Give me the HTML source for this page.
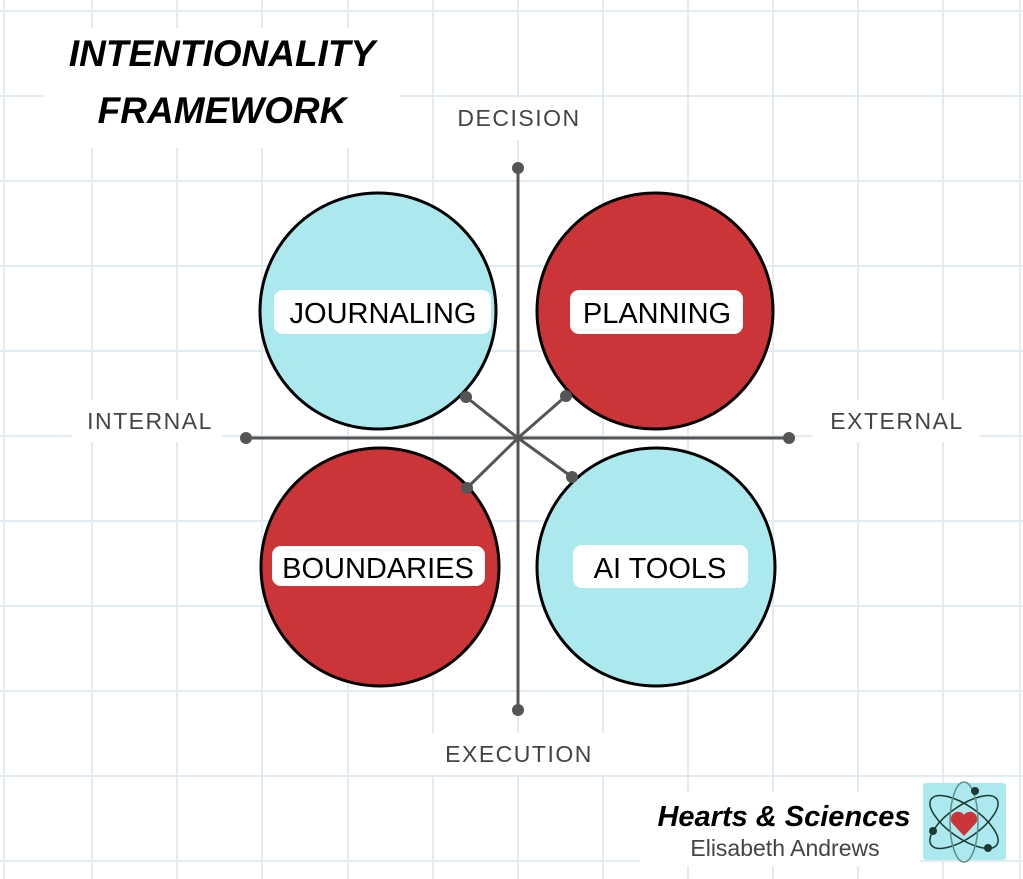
<!DOCTYPE html>
<html><head><meta charset="utf-8"><style>
body{margin:0;width:1023px;height:879px;overflow:hidden;background:#fff;}
svg{display:block}
</style></head><body>
<svg width="1023" height="879" viewBox="0 0 1023 879" xmlns="http://www.w3.org/2000/svg">
<g stroke="#e3ebf2" stroke-width="2">
<line x1="4" y1="0" x2="4" y2="879"/>
<line x1="92" y1="0" x2="92" y2="879"/><line x1="177" y1="0" x2="177" y2="879"/>
<line x1="262" y1="0" x2="262" y2="879"/><line x1="348" y1="0" x2="348" y2="879"/>
<line x1="433" y1="0" x2="433" y2="879"/><line x1="518" y1="0" x2="518" y2="879"/>
<line x1="603" y1="0" x2="603" y2="879"/><line x1="688" y1="0" x2="688" y2="879"/>
<line x1="773" y1="0" x2="773" y2="879"/><line x1="858" y1="0" x2="858" y2="879"/>
<line x1="943" y1="0" x2="943" y2="879"/><line x1="1020" y1="0" x2="1020" y2="879"/>
<line x1="0" y1="11" x2="1023" y2="11"/><line x1="0" y1="96" x2="1023" y2="96"/>
<line x1="0" y1="181" x2="1023" y2="181"/><line x1="0" y1="266" x2="1023" y2="266"/>
<line x1="0" y1="351" x2="1023" y2="351"/><line x1="0" y1="436" x2="1023" y2="436"/>
<line x1="0" y1="521" x2="1023" y2="521"/><line x1="0" y1="606" x2="1023" y2="606"/>
<line x1="0" y1="691" x2="1023" y2="691"/><line x1="0" y1="776" x2="1023" y2="776"/>
<line x1="0" y1="861" x2="1023" y2="861"/>
</g>
<g fill="#fff">
<rect x="44" y="28" width="356" height="120"/>
<rect x="445" y="98" width="145" height="42"/>
<rect x="72" y="400" width="150" height="42"/>
<rect x="812" y="400" width="168" height="42"/>
<rect x="430" y="733" width="175" height="42"/>
<rect x="640" y="792" width="280" height="74"/>
</g>
<text x="222" y="66" text-anchor="middle" font-family="Liberation Sans, sans-serif" font-weight="bold" font-style="italic" font-size="37" fill="#000">INTENTIONALITY</text>
<text x="222" y="123" text-anchor="middle" font-family="Liberation Sans, sans-serif" font-weight="bold" font-style="italic" font-size="37" fill="#000">FRAMEWORK</text>
<g font-family="Liberation Sans, sans-serif" font-size="23" fill="#444" letter-spacing="1.5">
<text x="519" y="126" text-anchor="middle">DECISION</text>
<text x="150" y="429" text-anchor="middle">INTERNAL</text>
<text x="897" y="429" text-anchor="middle">EXTERNAL</text>
<text x="519" y="762" text-anchor="middle">EXECUTION</text>
</g>
<g stroke="#000" stroke-width="3">
<circle cx="378" cy="311" r="118" fill="#abe9ee"/>
<circle cx="655" cy="311" r="118" fill="#cb3537"/>
<circle cx="380" cy="567" r="119" fill="#cb3537"/>
<circle cx="656" cy="567" r="119" fill="#abe9ee"/>
</g>
<g stroke="#555" stroke-width="3">
<line x1="518" y1="168" x2="518" y2="710"/>
<line x1="246" y1="438" x2="789" y2="438"/>
<line x1="466" y1="397" x2="518" y2="438"/>
<line x1="566" y1="396" x2="518" y2="438"/>
<line x1="467" y1="488" x2="518" y2="438"/>
<line x1="572" y1="477" x2="518" y2="438"/>
</g>
<g fill="#555">
<circle cx="518" cy="168" r="6"/><circle cx="518" cy="710" r="6"/>
<circle cx="246" cy="438" r="6"/><circle cx="789" cy="438" r="6"/>
<circle cx="466" cy="397" r="6"/><circle cx="566" cy="396" r="6"/>
<circle cx="467" cy="488" r="6"/><circle cx="572" cy="477" r="6"/>
</g>
<g fill="#fff">
<rect x="274" y="290" width="217" height="44" rx="9"/>
<rect x="570" y="290" width="173" height="44" rx="9"/>
<rect x="272" y="546" width="213" height="40" rx="9"/>
<rect x="573" y="545" width="175" height="43" rx="9"/>
</g>
<g font-family="Liberation Sans, sans-serif" font-size="29" fill="#000" text-anchor="middle">
<text x="383" y="323">JOURNALING</text>
<text x="657" y="323">PLANNING</text>
<text x="378" y="578">BOUNDARIES</text>
<text x="660" y="578">AI TOOLS</text>
</g>
<text x="784" y="826" text-anchor="middle" font-family="Liberation Sans, sans-serif" font-weight="bold" font-style="italic" font-size="29" fill="#000">Hearts &amp; Sciences</text>
<text x="785" y="856" text-anchor="middle" font-family="Liberation Sans, sans-serif" font-size="23" fill="#444">Elisabeth Andrews</text>
<rect x="923" y="783" width="83" height="77" rx="3" fill="#abe9ee"/>
<g fill="none" stroke="#1c3a30" stroke-width="1.5">
<ellipse cx="964" cy="822" rx="40" ry="16" transform="rotate(35 964 822)"/>
<ellipse cx="964" cy="822" rx="40" ry="16" transform="rotate(-35 964 822)"/>
<ellipse cx="964" cy="822" rx="40" ry="14" transform="rotate(90 964 822)" stroke="#5a8f86"/>
</g>
<g fill="#1c3a30"><circle cx="975" cy="791" r="4"/><circle cx="933" cy="831" r="4"/><circle cx="988" cy="848" r="4"/></g>
<path d="M964 836 L952 823 A6 6 0 0 1 964 815 A6 6 0 0 1 976 823 Z" fill="#cb3537"/>
</svg>
</body></html>
